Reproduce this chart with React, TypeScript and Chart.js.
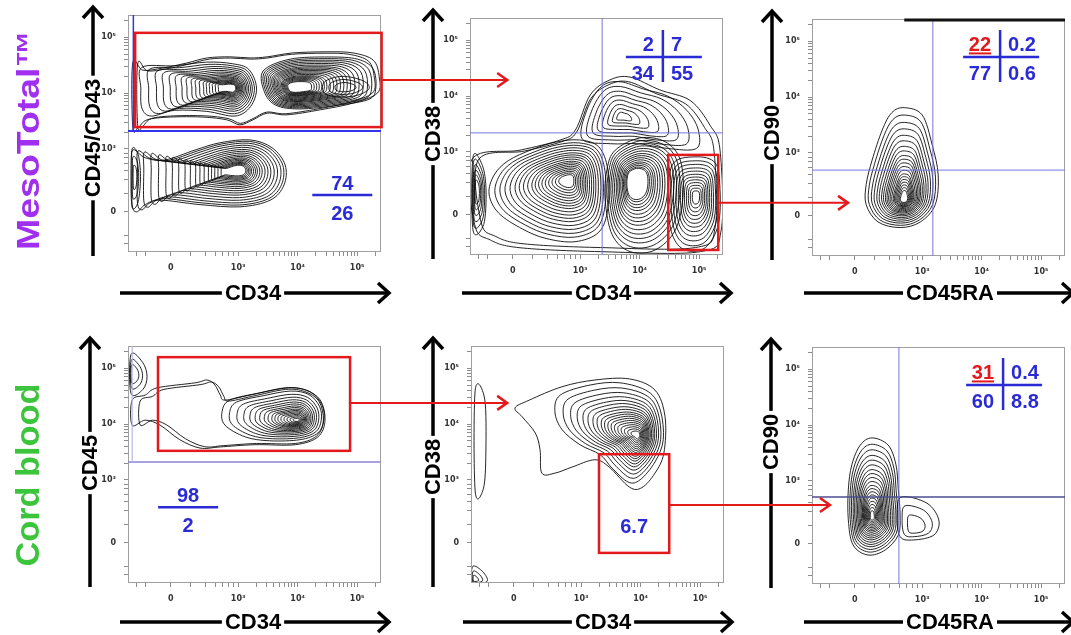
import React, { useEffect, useRef } from "react";
import { Chart, registerables } from "chart.js";

Chart.register(...registerables);

// ---------------- axes (decade units of the biexponential display; "0" sits at 1.87) ----------------
const axisRange = [1.15, 5.4];
const majorTicks = [1.87, 3, 4, 5];
const tickLabels = ["0", "10³", "10⁴", "10⁵"];

// ---------------- titles ----------------
const rowLabels = ["MesoTotal™", "Cord blood"];
const xAxisTitles = ["CD34", "CD34", "CD45RA", "CD34", "CD34", "CD45RA"];
const yAxisTitles = ["CD45/CD43", "CD38", "CD90", "CD45", "CD38", "CD90"];

// ---------------- gate statistics (%) ----------------
const mesoCD45Split = ["74", "26"];
const cordCD45Split = ["98", "2"];
const mesoCD38Quadrants = ["2", "7", "34", "55"];
const cordCD38GatePct = "6.7";
const mesoCD90Quadrants = ["22", "0.2", "77", "0.6"];
const cordCD90Quadrants = ["31", "0.4", "60", "8.8"];

// ---------------- gates [xMin, xMax, yMin, yMax] ----------------
const mesoCD45Gate = [1.27, 5.41, 3.39, 5.08];
const mesoCD38Gate = [4.48, 5.32, 1.24, 2.945];
const cordCD45Gate = [1.654, 4.88, 3.52, 5.2];
const cordCD38Gate = [3.3, 4.48, 1.69, 3.46];

// ---------------- quadrant / threshold lines ----------------
const mesoCD45Threshold = 3.32;
const cordCD45Threshold = 3.32;
const mesoCD38Quad = [3.37, 3.34];
const mesoCD90Quad = [3.18, 2.69];
const cordCD90Quad = [2.61, 2.71];

// ---------------- contour populations: outline [x,y], centre, ring levels ----------------
const meso1PosEnvelope = [[1.23,4.54],[1.4,4.41],[1.74,4.45],[2.14,4.54],[2.48,4.63],[2.86,4.65],[3.2,4.63],[3.49,4.65],[3.92,4.72],[4.49,4.74],[4.93,4.72],[5.27,4.59],[5.37,4.29],[5.34,4.0],[4.93,3.82],[4.38,3.7],[3.82,3.61],[3.49,3.64],[3.25,3.52],[3.03,3.43],[2.81,3.52],[2.41,3.57],[1.86,3.57],[1.47,3.52],[1.32,3.38],[1.23,3.39]];
const meso1PosEnvelopeCentre = [3.3, 4.1];
const meso1PosEnvelopeRings = [1, 0.96];
const meso1MidPeak = [[1.27,4.49],[1.86,4.52],[2.44,4.59],[2.9,4.56],[3.2,4.45],[3.34,4.09],[3.23,3.73],[2.95,3.55],[2.44,3.64],[1.86,3.66],[1.44,3.55],[1.27,3.7],[1.25,4.09]];
const meso1MidPeakCentre = [2.9, 4.09];
const meso1MidPeakRings = [0.93,0.85,0.77,0.7,0.63,0.57,0.51,0.46,0.41,0.37,0.33,0.29,0.26,0.23,0.2,0.17,0.14];
const meso1HighPeak = [[3.4,4.41],[3.87,4.63],[4.55,4.67],[5.05,4.63],[5.32,4.45],[5.37,4.09],[5.25,3.88],[4.71,3.77],[4.04,3.7],[3.62,3.77],[3.42,4.02]];
const meso1HighPeakCentre = [3.95, 4.09];
const meso1HighPeakRings = [0.96,0.91,0.86,0.81,0.76,0.71,0.66,0.62,0.58,0.54,0.5,0.46,0.42,0.38,0.35,0.32,0.29,0.26,0.23,0.2];
const meso1RightCore = [[4.45,4.2],[4.75,4.3],[5.1,4.22],[5.2,4.08],[5.0,3.96],[4.7,3.93],[4.45,4.0]];
const meso1RightCoreCentre = [4.8, 4.1];
const meso1RightCoreRings = [1, 0.72, 0.45];
const meso1NegPop = [[1.23,2.98],[1.44,2.84],[1.77,2.8],[2.28,2.98],[2.7,3.11],[3.2,3.16],[3.57,3.02],[3.79,2.71],[3.77,2.35],[3.54,2.08],[3.03,1.96],[2.36,2.0],[1.69,2.08],[1.44,2.0],[1.3,1.87],[1.22,2.0],[1.22,2.62]];
const meso1NegPopCentre = [3.0, 2.62];
const meso1NegPopRings = [1,0.95,0.89,0.82,0.75,0.68,0.62,0.56,0.5,0.45,0.4,0.36,0.32,0.28,0.25,0.22,0.19,0.16];
const meso1NegEdge = [[1.22,3.0],[1.32,2.9],[1.36,2.5],[1.32,2.05],[1.22,1.95],[1.2,2.5]];
const meso1NegEdgeCentre = [1.26, 2.5];
const meso1NegEdgeRings = [1, 0.7, 0.4];

const meso2Envelope = [[1.18,2.86],[1.99,3.03],[2.66,3.21],[2.92,3.39],[3.17,4.02],[3.5,4.29],[3.84,4.34],[4.34,4.11],[4.85,3.92],[5.18,3.48],[5.35,3.03],[5.37,1.6],[5.02,1.21],[3.34,1.21],[1.99,1.28],[1.49,1.42],[1.23,1.69]];
const meso2EnvelopeCentre = [3.34, 2.68];
const meso2EnvelopeRings = [1, 0.95];
const meso2Edge = [[1.2,2.9],[1.36,2.75],[1.42,2.3],[1.38,1.7],[1.2,1.6]];
const meso2EdgeCentre = [1.26, 2.3];
const meso2EdgeRings = [1, 0.85, 0.7, 0.56, 0.43, 0.3];
const meso2LowPeak = [[1.74,2.86],[2.16,3.07],[2.58,3.21],[3.0,3.25],[3.34,3.12],[3.5,2.68],[3.5,1.96],[3.34,1.51],[2.92,1.33],[2.41,1.39],[1.99,1.57],[1.57,1.87],[1.4,2.23],[1.49,2.59]];
const meso2LowPeakCentre = [2.81, 2.5];
const meso2LowPeakRings = [0.95,0.88,0.82,0.76,0.7,0.64,0.59,0.54,0.49,0.44,0.4,0.36,0.32,0.28,0.24,0.2,0.16,0.12];
const meso2MidPeak = [[3.59,3.03],[4.01,3.25],[4.43,3.18],[4.68,2.86],[4.73,2.23],[4.6,1.6],[4.26,1.24],[3.84,1.21],[3.54,1.51],[3.42,2.14],[3.45,2.68]];
const meso2MidPeakCentre = [3.92, 2.5];
const meso2MidPeakRings = [1,0.93,0.86,0.8,0.74,0.68,0.62,0.57,0.52,0.47,0.42,0.38,0.34,0.3,0.27];
const meso2HighPeak = [[4.55,2.77],[4.93,2.91],[5.27,2.8],[5.35,2.32],[5.32,1.69],[5.1,1.28],[4.76,1.24],[4.55,1.51],[4.48,2.08]];
const meso2HighPeakCentre = [4.95, 2.2];
const meso2HighPeakRings = [1,0.9,0.81,0.72,0.64,0.56,0.49,0.42,0.35,0.28,0.21,0.14];
const meso2CD38Hi = [[3.0,3.21],[3.08,3.75],[3.34,4.2],[3.67,4.29],[4.09,4.15],[4.51,4.02],[4.85,3.75],[5.05,3.39],[5.02,3.03],[4.51,3.03],[4.0,3.12],[3.5,3.12]];
const meso2CD38HiCentre = [3.7, 3.63];
const meso2CD38HiRings = [0.95,0.82,0.69,0.57,0.45,0.33,0.22,0.12];

const meso3Pop = [[2.7,3.81],[3.0,3.68],[3.17,3.14],[3.27,2.6],[3.22,2.07],[2.97,1.76],[2.63,1.66],[2.26,1.76],[2.06,2.07],[2.06,2.43],[2.16,2.87],[2.33,3.41],[2.49,3.72]];
const meso3PopCentre = [2.7, 2.16];
const meso3PopRings = [1,0.92,0.84,0.77,0.7,0.64,0.58,0.53,0.48,0.44,0.4,0.36,0.32,0.28,0.25,0.22,0.19,0.16,0.13,0.1];

const cord1Envelope = [[1.64,4.65],[2.28,4.74],[2.48,4.79],[2.61,4.7],[2.7,4.52],[2.78,4.43],[3.2,4.52],[3.79,4.65],[4.13,4.61],[4.38,4.43],[4.46,4.07],[4.34,3.77],[3.96,3.63],[3.28,3.63],[2.7,3.59],[2.36,3.57],[2.02,3.72],[1.69,3.98],[1.44,4.07],[1.22,3.98],[1.22,4.43],[1.44,4.52]];
const cord1EnvelopeCentre = [3.9, 4.07];
const cord1EnvelopeRings = [1, 0.95];
const cord1Core = [[2.86,4.43],[3.37,4.56],[3.87,4.65],[4.21,4.58],[4.41,4.34],[4.44,4.07],[4.34,3.84],[4.04,3.72],[3.53,3.7],[3.12,3.77],[2.78,3.98],[2.73,4.22]];
const cord1CoreCentre = [4.0, 4.07];
const cord1CoreRings = [1,0.9,0.8,0.71,0.63,0.56,0.5,0.44,0.39,0.34,0.3,0.26,0.22,0.18,0.14,0.1,0.06];
const cord1Corner = [[1.2,5.25],[1.4,5.1],[1.47,4.85],[1.4,4.62],[1.2,4.55]];
const cord1CornerCentre = [1.22, 4.9];
const cord1CornerRings = [1, 0.7, 0.45];

const cord2Envelope = [[1.89,4.29],[2.13,4.43],[2.68,4.67],[3.23,4.79],[3.81,4.81],[4.24,4.61],[4.41,4.13],[4.39,3.48],[4.24,3.12],[4.02,2.86],[3.81,2.87],[3.47,3.23],[3.23,3.36],[2.85,3.23],[2.56,3.12],[2.34,3.12],[2.31,3.54],[2.23,3.84],[2.01,4.13]];
const cord2EnvelopeCentre = [3.9, 3.84];
const cord2EnvelopeRings = [1];
const cord2Core = [[2.65,4.52],[3.15,4.7],[3.65,4.74],[4.13,4.58],[4.33,4.25],[4.38,3.72],[4.24,3.32],[3.99,3.0],[3.79,2.96],[3.52,3.21],[3.32,3.45],[2.98,3.63],[2.68,3.9],[2.56,4.22]];
const cord2CoreCentre = [3.95, 3.8];
const cord2CoreRings = [1,0.9,0.81,0.73,0.66,0.6,0.54,0.49,0.44,0.4,0.36,0.32,0.28,0.24,0.2,0.16,0.12,0.08];
const cord2Edge = [[1.22,4.6],[1.38,4.45],[1.4,3.5],[1.36,2.85],[1.22,2.8]];
const cord2EdgeCentre = [1.26, 3.7];
const cord2EdgeRings = [1];
const cord2Corner = [[1.18,1.45],[1.35,1.35],[1.42,1.18],[1.18,1.15]];
const cord2CornerCentre = [1.2, 1.2];
const cord2CornerRings = [1, 0.65, 0.35];

const cord3Main = [[2.16,3.77],[2.43,3.64],[2.56,3.29],[2.6,2.84],[2.63,2.39],[2.6,2.03],[2.38,1.76],[2.09,1.67],[1.84,1.85],[1.76,2.3],[1.76,2.84],[1.82,3.29],[1.96,3.64]];
const cord3MainCentre = [2.16, 2.35];
const cord3MainRings = [1,0.92,0.85,0.78,0.72,0.66,0.6,0.55,0.5,0.45,0.4,0.36,0.32,0.28,0.24,0.2,0.16,0.12,0.08];
const cord3Side = [[2.65,2.71],[3.08,2.6],[3.28,2.3],[3.2,2.03],[2.86,1.94],[2.63,2.0],[2.58,2.39]];
const cord3SideCentre = [2.88, 2.15];
const cord3SideRings = [1, 0.72, 0.42];

// ---------------- layout (pixels) ----------------
const AREA_W = 253, AREA_H = 237;
const CANVAS_W = 521, CANVAS_H = 312;
const PAD_L = 128, PAD_T = 15;
const Y_AXIS_W = 30, X_AXIS_H = 26;

const BLUE = "#2b2bd6";
const RED = "#e3191c";
const FONT = '"Liberation Sans", Arial, sans-serif';

type Blob = { outline: number[][]; centre: number[]; rings: number[] };
type Panel = {
  left: number; top: number;
  yArrowDx: number; xArrowDy: number; yTitleDy: number; xTitleDx: number;
  blobs: Blob[];
  hLine?: { y: number; color: string; width: number };
  vLine?: { x: number; color: string; width: number; y2?: number };
  gate?: number[];
  arrow?: { y: number; tip: number };
  quad?: { at: number[]; values: string[]; redFirst: boolean };
  split?: { at: number[]; values: string[] };
  gateText?: { at: number[]; text: string };
  topBar?: number;
};

const blob = (outline: number[][], centre: number[], rings: number[]): Blob => ({ outline, centre, rings });

const panels: Panel[] = [
  {
    left: 128, top: 15, yArrowDx: 35, xArrowDy: 41, yTitleDy: 123, xTitleDx: 125,
    blobs: [
      blob(meso1PosEnvelope, meso1PosEnvelopeCentre, meso1PosEnvelopeRings),
      blob(meso1MidPeak, meso1MidPeakCentre, meso1MidPeakRings),
      blob(meso1HighPeak, meso1HighPeakCentre, meso1HighPeakRings),
      blob(meso1RightCore, meso1RightCoreCentre, meso1RightCoreRings),
      blob(meso1NegPop, meso1NegPopCentre, meso1NegPopRings),
      blob(meso1NegEdge, meso1NegEdgeCentre, meso1NegEdgeRings),
    ],
    hLine: { y: mesoCD45Threshold, color: "#3434ee", width: 2 },
    vLine: { x: 1.24, color: "#3434ee", width: 1.5, y2: mesoCD45Threshold },
    gate: mesoCD45Gate,
    arrow: { y: 4.235, tip: 7.52 },
    split: { at: [4.75, 2.17], values: mesoCD45Split },
  },
  {
    left: 470, top: 18, yArrowDx: 37, xArrowDy: 38, yTitleDy: 116, xTitleDx: 133,
    blobs: [
      blob(meso2Envelope, meso2EnvelopeCentre, meso2EnvelopeRings),
      blob(meso2Edge, meso2EdgeCentre, meso2EdgeRings),
      blob(meso2LowPeak, meso2LowPeakCentre, meso2LowPeakRings),
      blob(meso2MidPeak, meso2MidPeakCentre, meso2MidPeakRings),
      blob(meso2HighPeak, meso2HighPeakCentre, meso2HighPeakRings),
      blob(meso2CD38Hi, meso2CD38HiCentre, meso2CD38HiRings),
    ],
    hLine: { y: mesoCD38Quad[1], color: "#7474e4", width: 1 },
    vLine: { x: mesoCD38Quad[0], color: "#7474e4", width: 1 },
    gate: mesoCD38Gate,
    arrow: { y: 2.085, tip: 7.5 },
    quad: { at: [4.39, 4.7], values: mesoCD38Quadrants, redFirst: false },
  },
  {
    left: 812, top: 19, yArrowDx: 40, xArrowDy: 37, yTitleDy: 114, xTitleDx: 138,
    blobs: [blob(meso3Pop, meso3PopCentre, meso3PopRings)],
    hLine: { y: mesoCD90Quad[1], color: "#7474e4", width: 1 },
    vLine: { x: mesoCD90Quad[0], color: "#7474e4", width: 1 },
    quad: { at: [4.31, 4.72], values: mesoCD90Quadrants, redFirst: true },
    topBar: 2.7,
  },
  {
    left: 128, top: 346, yArrowDx: 38, xArrowDy: 39, yTitleDy: 117, xTitleDx: 125,
    blobs: [
      blob(cord1Envelope, cord1EnvelopeCentre, cord1EnvelopeRings),
      blob(cord1Core, cord1CoreCentre, cord1CoreRings),
      blob(cord1Corner, cord1CornerCentre, cord1CornerRings),
    ],
    hLine: { y: cordCD45Threshold, color: "#8a86d6", width: 1.5 },
    vLine: { x: 1.22, color: "#b8b6e6", width: 1.2, y2: cordCD45Threshold },
    gate: cordCD45Gate,
    arrow: { y: 4.38, tip: 7.52 },
    split: { at: [2.16, 2.51], values: cordCD45Split },
  },
  {
    left: 471, top: 346, yArrowDx: 38, xArrowDy: 39, yTitleDy: 121, xTitleDx: 132,
    blobs: [
      blob(cord2Envelope, cord2EnvelopeCentre, cord2EnvelopeRings),
      blob(cord2Core, cord2CoreCentre, cord2CoreRings),
      blob(cord2Edge, cord2EdgeCentre, cord2EdgeRings),
      blob(cord2Corner, cord2CornerCentre, cord2CornerRings),
    ],
    gate: cordCD38Gate,
    arrow: { y: 2.55, tip: 7.18 },
    gateText: { at: [3.89, 2.14], text: cordCD38GatePct },
  },
  {
    left: 812, top: 347, yArrowDx: 41, xArrowDy: 38, yTitleDy: 95, xTitleDx: 138,
    blobs: [
      blob(cord3Main, cord3MainCentre, cord3MainRings),
      blob(cord3Side, cord3SideCentre, cord3SideRings),
    ],
    hLine: { y: cordCD90Quad[1], color: "#4c4c92", width: 1.5 },
    vLine: { x: cordCD90Quad[0], color: "#7474e4", width: 1 },
    quad: { at: [4.36, 4.72], values: cordCD90Quadrants, redFirst: true },
  },
];

// minor tick marks of the log display
const minorTicks: number[] = [];
[3, 4, 5].forEach((d) => {
  for (let k = 2; k <= 9; k++) {
    const v = d + Math.log10(k);
    if (v < axisRange[1]) minorTicks.push(v);
  }
});
[1.3, 1.45, 2.2, 2.45, 2.62, 2.74, 2.84, 2.92].forEach((v) => minorTicks.push(v));

function closedCurve(ctx: CanvasRenderingContext2D, pts: number[][]) {
  const n = pts.length;
  ctx.beginPath();
  ctx.moveTo(pts[0][0], pts[0][1]);
  for (let i = 0; i < n; i++) {
    const p0 = pts[(i - 1 + n) % n], p1 = pts[i], p2 = pts[(i + 1) % n], p3 = pts[(i + 2) % n];
    const t = 1 / 6;
    ctx.bezierCurveTo(
      p1[0] + (p2[0] - p0[0]) * t, p1[1] + (p2[1] - p0[1]) * t,
      p2[0] - (p3[0] - p1[0]) * t, p2[1] - (p3[1] - p1[1]) * t,
      p2[0], p2[1]
    );
  }
  ctx.closePath();
  ctx.stroke();
}

function chevron(ctx: CanvasRenderingContext2D, x: number, y: number, dir: "up" | "right", len: number, spread: number) {
  ctx.beginPath();
  if (dir === "up") {
    ctx.moveTo(x - spread, y + len);
    ctx.lineTo(x, y);
    ctx.lineTo(x + spread, y + len);
  } else {
    ctx.moveTo(x - len, y - spread);
    ctx.lineTo(x, y);
    ctx.lineTo(x - len, y + spread);
  }
  ctx.stroke();
}

function makePlugin(p: Panel, idx: number) {
  return {
    id: "flowPanel" + idx,
    beforeDatasetsDraw(chart: any) {
      const { ctx, chartArea: a } = chart;
      const xs = chart.scales.x, ys = chart.scales.y;
      const X = (u: number) => xs.getPixelForValue(u);
      const Y = (v: number) => ys.getPixelForValue(v);
      ctx.save();
      ctx.strokeStyle = "#a0a0a0";
      ctx.lineWidth = 1;
      ctx.strokeRect(a.left + 0.5, a.top + 0.5, a.right - a.left - 1, a.bottom - a.top - 1);
      ctx.save();
      ctx.beginPath();
      ctx.rect(a.left + 1, a.top + 1, a.right - a.left - 2, a.bottom - a.top - 2);
      ctx.clip();
      ctx.strokeStyle = "rgba(8,8,8,0.88)";
      ctx.lineWidth = 1;
      ctx.lineJoin = "round";
      for (const b of p.blobs) {
        const [cx, cy] = b.centre;
        for (const s of b.rings) {
          const pts = b.outline.map(([u, v]) => [X(cx + s * (u - cx)), Y(cy + s * (v - cy))]);
          closedCurve(ctx, pts);
        }
      }
      ctx.restore();
      ctx.restore();
    },
    afterDatasetsDraw(chart: any) {
      const { ctx, chartArea: a } = chart;
      const xs = chart.scales.x, ys = chart.scales.y;
      const X = (u: number) => xs.getPixelForValue(u);
      const Y = (v: number) => ys.getPixelForValue(v);
      ctx.save();
      if (p.hLine) {
        ctx.strokeStyle = p.hLine.color;
        ctx.lineWidth = p.hLine.width;
        ctx.beginPath();
        ctx.moveTo(a.left, Y(p.hLine.y));
        ctx.lineTo(a.right, Y(p.hLine.y));
        ctx.stroke();
      }
      if (p.vLine) {
        ctx.strokeStyle = p.vLine.color;
        ctx.lineWidth = p.vLine.width;
        ctx.beginPath();
        ctx.moveTo(X(p.vLine.x), a.top);
        ctx.lineTo(X(p.vLine.x), p.vLine.y2 !== undefined ? Y(p.vLine.y2) : a.bottom);
        ctx.stroke();
      }
      if (p.topBar !== undefined) {
        ctx.strokeStyle = "#111";
        ctx.lineWidth = 3;
        ctx.beginPath();
        ctx.moveTo(X(p.topBar), a.top + 1);
        ctx.lineTo(a.right, a.top + 1);
        ctx.stroke();
      }
      if (p.gate) {
        const [x1, x2, y1, y2] = p.gate;
        ctx.strokeStyle = RED;
        ctx.lineWidth = 2.5;
        ctx.strokeRect(X(x1), Y(y2), X(x2) - X(x1), Y(y1) - Y(y2));
        if (p.arrow) {
          const yy = Y(p.arrow.y);
          const tip = X(p.arrow.tip);
          ctx.lineWidth = 2;
          ctx.beginPath();
          ctx.moveTo(X(x2), yy);
          ctx.lineTo(tip, yy);
          ctx.stroke();
          ctx.lineWidth = 2.5;
          chevron(ctx, tip, yy, "right", 10, 7);
        }
      }
      ctx.font = `bold 20px ${FONT}`;
      ctx.textBaseline = "alphabetic";
      if (p.quad) {
        const cx = X(p.quad.at[0]), cy = Y(p.quad.at[1]);
        ctx.strokeStyle = BLUE;
        ctx.lineWidth = 2.5;
        ctx.beginPath();
        ctx.moveTo(cx, cy - 27);
        ctx.lineTo(cx, cy + 25);
        ctx.moveTo(cx - 37, cy);
        ctx.lineTo(cx + 39, cy);
        ctx.stroke();
        const v = p.quad.values;
        ctx.textAlign = "right";
        ctx.fillStyle = p.quad.redFirst ? RED : BLUE;
        ctx.fillText(v[0], cx - 9, cy - 6);
        if (p.quad.redFirst) {
          const w = ctx.measureText(v[0]).width;
          ctx.fillRect(cx - 9 - w, cy - 4.5, w, 2);
        }
        ctx.fillStyle = BLUE;
        ctx.fillText(v[2], cx - 9, cy + 23);
        ctx.textAlign = "left";
        ctx.fillText(v[1], cx + 8, cy - 6);
        ctx.fillText(v[3], cx + 8, cy + 23);
      }
      if (p.split) {
        const cx = X(p.split.at[0]), cy = Y(p.split.at[1]);
        ctx.strokeStyle = BLUE;
        ctx.lineWidth = 2.5;
        ctx.beginPath();
        ctx.moveTo(cx - 30, cy);
        ctx.lineTo(cx + 30, cy);
        ctx.stroke();
        ctx.fillStyle = BLUE;
        ctx.textAlign = "center";
        ctx.fillText(p.split.values[0], cx, cy - 5);
        ctx.fillText(p.split.values[1], cx, cy + 25);
      }
      if (p.gateText) {
        ctx.fillStyle = BLUE;
        ctx.textAlign = "center";
        ctx.textBaseline = "middle";
        ctx.fillText(p.gateText.text, X(p.gateText.at[0]), Y(p.gateText.at[1]));
      }
      ctx.restore();
    },
    afterDraw(chart: any) {
      const { ctx, chartArea: a } = chart;
      ctx.save();
      ctx.strokeStyle = "#000";
      ctx.fillStyle = "#000";
      ctx.lineCap = "butt";
      ctx.lineJoin = "miter";
      const ax = a.left - p.yArrowDx;
      const tipY = a.top - 8;
      ctx.lineWidth = 3.5;
      ctx.beginPath();
      ctx.moveTo(ax, a.bottom + 4);
      ctx.lineTo(ax, tipY + 1);
      ctx.stroke();
      chevron(ctx, ax, tipY, "up", 11, 10);
      const ay = a.bottom + p.xArrowDy;
      const tipX = a.right + 8;
      ctx.beginPath();
      ctx.moveTo(a.left - 8, ay);
      ctx.lineTo(tipX - 1, ay);
      ctx.stroke();
      chevron(ctx, tipX, ay, "right", 11, 10);
      ctx.font = `bold 22px ${FONT}`;
      ctx.textAlign = "center";
      ctx.textBaseline = "middle";
      const xt = xAxisTitles[idx];
      const xw = ctx.measureText(xt).width;
      const xcx = a.left + p.xTitleDx;
      ctx.fillStyle = "#fff";
      ctx.fillRect(xcx - xw / 2 - 3, ay - 9, xw + 6, 18);
      ctx.fillStyle = "#000";
      ctx.fillText(xt, xcx, ay + 1);
      const yt = yAxisTitles[idx];
      const yw = ctx.measureText(yt).width;
      ctx.translate(ax, a.top + p.yTitleDy);
      ctx.rotate(-Math.PI / 2);
      ctx.fillStyle = "#fff";
      ctx.fillRect(-yw / 2 - 3, -9, yw + 6, 18);
      ctx.fillStyle = "#000";
      ctx.fillText(yt, 0, 1);
      ctx.restore();
    },
  };
}

function tickLabel(value: number) {
  const i = majorTicks.findIndex((m) => Math.abs(m - value) < 1e-6);
  return i >= 0 ? tickLabels[i] : "";
}

function axisOptions(axis: "x" | "y") {
  return {
    type: "linear",
    min: axisRange[0],
    max: axisRange[1],
    afterBuildTicks: (scale: any) => {
      scale.ticks = [...majorTicks, ...minorTicks].sort((a, b) => a - b).map((v) => ({ value: v }));
    },
    afterFit: (scale: any) => {
      if (axis === "x") scale.height = X_AXIS_H;
      else scale.width = Y_AXIS_W;
    },
    border: { display: false },
    grid: {
      drawOnChartArea: false,
      drawTicks: true,
      tickLength: 4,
      color: "#8c8c8c",
      lineWidth: 1,
    },
    ticks: {
      autoSkip: false,
      maxRotation: 0,
      minRotation: 0,
      padding: axis === "x" ? 7 : 8,
      color: "#333",
      font: { family: '"DejaVu Sans"', size: 8, weight: "bold" },
      callback: (v: number) => tickLabel(v),
    },
  };
}

function FlowPanel({ p, idx }: { p: Panel; idx: number }) {
  const ref = useRef<HTMLCanvasElement | null>(null);
  useEffect(() => {
    if (!ref.current) return;
    const chart = new Chart(ref.current, {
      type: "scatter",
      data: { datasets: [] },
      options: {
        animation: false,
        responsive: false,
        maintainAspectRatio: false,
        devicePixelRatio: 1,
        events: [],
        layout: {
          padding: {
            left: PAD_L - Y_AXIS_W,
            top: PAD_T,
            right: CANVAS_W - PAD_L - AREA_W,
            bottom: CANVAS_H - PAD_T - AREA_H - X_AXIS_H,
          },
        },
        plugins: { legend: { display: false }, tooltip: { enabled: false }, title: { display: false } },
        scales: { x: axisOptions("x"), y: axisOptions("y") } as any,
      },
      plugins: [makePlugin(p, idx)],
    } as any);
    return () => chart.destroy();
  }, [p, idx]);
  return (
    <canvas
      ref={ref}
      width={CANVAS_W}
      height={CANVAS_H}
      style={{
        position: "absolute",
        left: p.left - PAD_L,
        top: p.top - PAD_T,
        width: CANVAS_W,
        height: CANVAS_H,
        zIndex: 10 - idx,
      }}
    />
  );
}

export default function App() {
  const rowLabelStyle = (cx: number, cy: number, color: string, size: number, stretch: number): React.CSSProperties => ({
    position: "absolute",
    left: cx - 150,
    top: cy - 20,
    width: 300,
    height: 40,
    lineHeight: "40px",
    textAlign: "center",
    transform: `rotate(-90deg) scaleX(${stretch})`,
    font: `bold ${size}px ${FONT}`,
    color,
    whiteSpace: "nowrap",
    zIndex: 20,
  });
  return (
    <div style={{ position: "absolute", left: 0, top: 0, width: 1071, height: 635, overflow: "hidden", background: "#fff" }}>
      {panels.map((p, i) => (
        <FlowPanel key={i} p={p} idx={i} />
      ))}
      <div style={rowLabelStyle(30, 140, "#a02ff0", 32, 1.17)}>{rowLabels[0]}</div>
      <div style={rowLabelStyle(29, 475, "#3dc43d", 33, 1.04)}>{rowLabels[1]}</div>
    </div>
  );
}
